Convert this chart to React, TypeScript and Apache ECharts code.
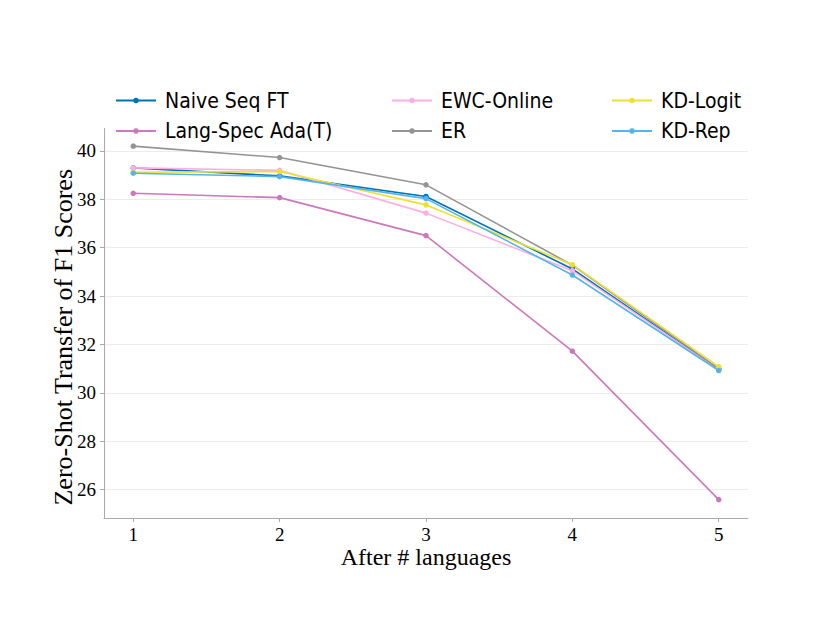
import React, { useEffect, useRef } from "react";
import * as echarts from "echarts";

const steps = [1, 2, 3, 4, 5];
const yTicks = [26, 28, 30, 32, 34, 36, 38, 40];

const naiveSeqFT = [39.3, 38.97, 38.12, 35.12, 30.98];
const langSpecAda = [38.25, 38.07, 36.5, 31.72, 25.58];
const ewcOnline = [39.3, 39.2, 37.43, 35.05, 30.95];
const er = [40.2, 39.73, 38.6, 35.28, 31.0];
const kdLogit = [39.12, 39.15, 37.77, 35.3, 31.08];
const kdRep = [39.08, 38.94, 38.03, 34.87, 30.92];

const seriesDefs = [
  { name: "Naive Seq FT", values: naiveSeqFT, color: "#0173b2" },
  { name: "Lang-Spec Ada(T)", values: langSpecAda, color: "#cc78bc" },
  { name: "EWC-Online", values: ewcOnline, color: "#fbafe4" },
  { name: "ER", values: er, color: "#949494" },
  { name: "KD-Logit", values: kdLogit, color: "#ece133" },
  { name: "KD-Rep", values: kdRep, color: "#56b4e9" },
];

const SERIF = "'Liberation Serif', 'Times New Roman', serif";
const SANS = "'DejaVu Sans Condensed', 'DejaVu Sans', sans-serif";

export default function App() {
  const ref = useRef<HTMLDivElement>(null);
  useEffect(() => {
    if (!ref.current) return;
    const chart = echarts.init(ref.current, undefined, { renderer: "svg" });
    const legendBase = {
      orient: "vertical" as const,
      top: 85,
      itemWidth: 40,
      itemHeight: 7,
      itemGap: 9.5,
      textStyle: {
        fontFamily: SANS,
        fontSize: 21,
        lineHeight: 20,
        color: "#000",
        padding: [0, 0, 0, 4],
      },
    };
    chart.setOption({
      animation: false,
      backgroundColor: "#fff",
      legend: [
        { ...legendBase, left: 110, data: [seriesDefs[0].name, seriesDefs[1].name] },
        { ...legendBase, left: 386, data: [seriesDefs[2].name, seriesDefs[3].name] },
        { ...legendBase, left: 606, data: [seriesDefs[4].name, seriesDefs[5].name] },
      ],
      grid: { left: 104, right: 82, top: 128.5, bottom: 124, containLabel: false },
      xAxis: {
        type: "value",
        min: 0.8,
        max: 5.2,
        name: "After # languages",
        nameLocation: "middle",
        nameGap: 27,
        nameMoveOverlap: false,
        nameTextStyle: { fontFamily: SERIF, fontSize: 24, color: "#000" },
        axisLine: { show: true, lineStyle: { color: "#aaaaaa", width: 1 } },
        axisTick: { show: true, customValues: steps, length: 4, lineStyle: { color: "#aaaaaa" } },
        axisLabel: {
          customValues: steps,
          margin: 7,
          fontFamily: SERIF,
          fontSize: 19,
          color: "#000",
        },
        splitLine: { show: false },
      },
      yAxis: {
        type: "value",
        min: 24.82,
        max: 40.93,
        name: "Zero-Shot Transfer of F1 Scores",
        nameLocation: "middle",
        nameGap: 28,
        nameMoveOverlap: false,
        nameRotate: 90,
        nameTextStyle: {
          fontFamily: SERIF,
          fontSize: 26,
          color: "#000",
          padding: [0, 28, 0, 0],
        },
        axisLine: { show: true, lineStyle: { color: "#aaaaaa", width: 1 } },
        axisTick: { show: true, customValues: yTicks, length: 4, lineStyle: { color: "#aaaaaa" } },
        axisLabel: {
          customValues: yTicks,
          margin: 8,
          fontFamily: SERIF,
          fontSize: 19,
          color: "#000",
        },
        splitLine: { show: true, lineStyle: { color: "#ececec", width: 1 } },
      },
      series: seriesDefs.map((s) => ({
        name: s.name,
        type: "line",
        data: steps.map((x, i) => [x, s.values[i]]),
        symbol: "circle",
        symbolSize: 5.5,
        lineStyle: { width: 1.6, color: s.color },
        itemStyle: { color: s.color },
        emphasis: { disabled: true },
      })),
    });
    return () => chart.dispose();
  }, []);
  return (
    <div
      ref={ref}
      style={{ position: "absolute", left: 0, top: 0, width: 830, height: 642 }}
    />
  );
}
